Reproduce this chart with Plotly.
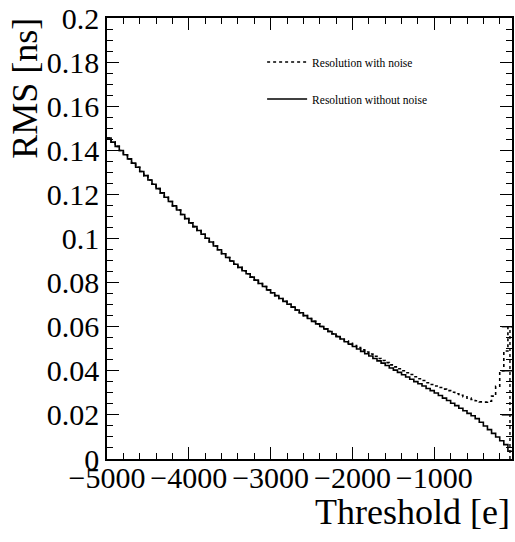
import plotly.graph_objects as go

# Histogram binning: 99 bins of 50 e from -5000 to -50
bin_lo = -5000
bin_w = 50

rms_without_noise = [
    0.1456, 0.1437, 0.1418, 0.1399, 0.1380, 0.1361, 0.1342, 0.1323, 0.1304, 0.1285,
    0.1265, 0.1246, 0.1226, 0.1207, 0.1187, 0.1168, 0.1148, 0.1129, 0.1109, 0.1090,
    0.1071, 0.1054, 0.1036, 0.1019, 0.1001, 0.0984, 0.0966, 0.0949, 0.0931, 0.0914,
    0.0898, 0.0883, 0.0869, 0.0854, 0.0840, 0.0825, 0.0811, 0.0796, 0.0782, 0.0767,
    0.0754, 0.0741, 0.0728, 0.0715, 0.0702, 0.0689, 0.0676, 0.0663, 0.0650, 0.0637,
    0.0624, 0.0613, 0.0601, 0.0590, 0.0578, 0.0567, 0.0555, 0.0544, 0.0532, 0.0521,
    0.0510, 0.0499, 0.0488, 0.0477, 0.0467, 0.0456, 0.0445, 0.0435, 0.0424, 0.0413,
    0.0403, 0.0393, 0.0382, 0.0372, 0.0362, 0.0351, 0.0341, 0.0331, 0.0320, 0.0310,
    0.0299, 0.0288, 0.0276, 0.0265, 0.0253, 0.0242, 0.0230, 0.0219, 0.0207, 0.0196,
    0.0183, 0.0167, 0.0150, 0.0133, 0.0116, 0.0100, 0.0083, 0.0065, 0.0035,
]

rms_with_noise = [
    0.1456, 0.1437, 0.1418, 0.1399, 0.1380, 0.1361, 0.1342, 0.1323, 0.1304, 0.1285,
    0.1265, 0.1246, 0.1226, 0.1207, 0.1187, 0.1168, 0.1148, 0.1129, 0.1109, 0.1090,
    0.1071, 0.1054, 0.1036, 0.1019, 0.1001, 0.0984, 0.0966, 0.0949, 0.0931, 0.0914,
    0.0898, 0.0883, 0.0869, 0.0854, 0.0840, 0.0825, 0.0811, 0.0796, 0.0782, 0.0767,
    0.0754, 0.0741, 0.0728, 0.0715, 0.0702, 0.0689, 0.0676, 0.0663, 0.0650, 0.0637,
    0.0624, 0.0613, 0.0601, 0.0590, 0.0579, 0.0568, 0.0557, 0.0546, 0.0535, 0.0525,
    0.0515, 0.0505, 0.0495, 0.0485, 0.0476, 0.0466, 0.0456, 0.0447, 0.0437, 0.0427,
    0.0418, 0.0409, 0.0400, 0.0391, 0.0383, 0.0373, 0.0364, 0.0356, 0.0346, 0.0338,
    0.0331, 0.0324, 0.0317, 0.0310, 0.0303, 0.0296, 0.0289, 0.0282, 0.0276, 0.0270,
    0.0264, 0.0259, 0.0258, 0.0262, 0.0285, 0.0330, 0.0400, 0.0490, 0.0600,
]

# Last-bin error bar of the noisy histogram and short horizontal marks near the end
last_bin_center = -75
last_bin_err_low = 0.0
end_mark_levels = [0.06, 0.04, 0.02]
end_mark_x = [-175, -50]

x_ticks = [-5000, -4000, -3000, -2000, -1000]
y_ticks = [0, 0.02, 0.04, 0.06, 0.08, 0.1, 0.12, 0.14, 0.16, 0.18, 0.2]

n = len(rms_without_noise)
edges = [bin_lo + bin_w * i for i in range(n + 1)]

def step_xy(vals):
    return edges, list(vals) + [vals[-1]]

FONT = "Liberation Serif, Times New Roman, serif"

fig = go.Figure()

xs, ys = step_xy(rms_with_noise)
fig.add_trace(go.Scatter(
    x=xs, y=ys, mode="lines", line=dict(color="black", width=1.6, dash="dot", shape="hv"),
    name="Resolution with noise", legendgroup="a", hoverinfo="skip"))

xs, ys = step_xy(rms_without_noise)
fig.add_trace(go.Scatter(
    x=xs, y=ys, mode="lines", line=dict(color="black", width=1.6, shape="hv"),
    name="Resolution without noise", legendgroup="b", hoverinfo="skip"))

# vertical error bar on the last bin
fig.add_trace(go.Scatter(
    x=[last_bin_center, last_bin_center], y=[last_bin_err_low, rms_with_noise[-1]],
    mode="lines", line=dict(color="black", width=1.4, dash="dot"),
    showlegend=False, hoverinfo="skip"))

mx, my = [], []
for lv in end_mark_levels:
    mx += [end_mark_x[0], end_mark_x[1], None]
    my += [lv, lv, None]
fig.add_trace(go.Scatter(
    x=mx, y=my, mode="lines", line=dict(color="black", width=1.4),
    showlegend=False, hoverinfo="skip"))

fig.update_layout(
    width=515, height=542,
    margin=dict(l=107, r=1, t=18, b=83),
    paper_bgcolor="white", plot_bgcolor="white",
    font=dict(family=FONT, color="black"),
    legend=dict(x=0.383, y=0.933, xanchor="left", yanchor="top",
                font=dict(family=FONT, size=11.5, color="black"),
                bgcolor="rgba(0,0,0,0)", tracegroupgap=18, itemwidth=40),
    showlegend=True,
)

fig.update_xaxes(
    range=[-5000, -50], tickvals=x_ticks, ticks="inside", ticklen=12,
    tickwidth=1.2, tickcolor="black", ticklabelstandoff=-9,
    minor=dict(dtick=200, tick0=-5000, ticks="inside", ticklen=6, tickwidth=1.2, tickcolor="black"),
    showline=True, linecolor="black", linewidth=1.5, mirror="ticks",
    showgrid=False, zeroline=False,
    tickfont=dict(family=FONT, size=30, color="black"),
)
fig.update_yaxes(
    range=[0, 0.2], tickvals=y_ticks, ticks="inside", ticklen=12,
    tickwidth=1.2, tickcolor="black",
    minor=dict(dtick=0.005, tick0=0, ticks="inside", ticklen=6, tickwidth=1.2, tickcolor="black"),
    showline=True, linecolor="black", linewidth=1.5, mirror="ticks",
    showgrid=False, zeroline=False,
    tickfont=dict(family=FONT, size=30, color="black"),
)

fig.add_annotation(text="Threshold [e]", xref="paper", yref="paper", x=1.0, y=-0.07,
                   xanchor="right", yanchor="top", showarrow=False,
                   font=dict(family=FONT, size=36, color="black"))
fig.add_annotation(text="RMS [ns]", xref="paper", yref="paper", x=-0.2015, y=1.005,
                   xanchor="center", yanchor="top", textangle=-90, showarrow=False,
                   font=dict(family=FONT, size=36, color="black"))

fig.write_html("out.html")
